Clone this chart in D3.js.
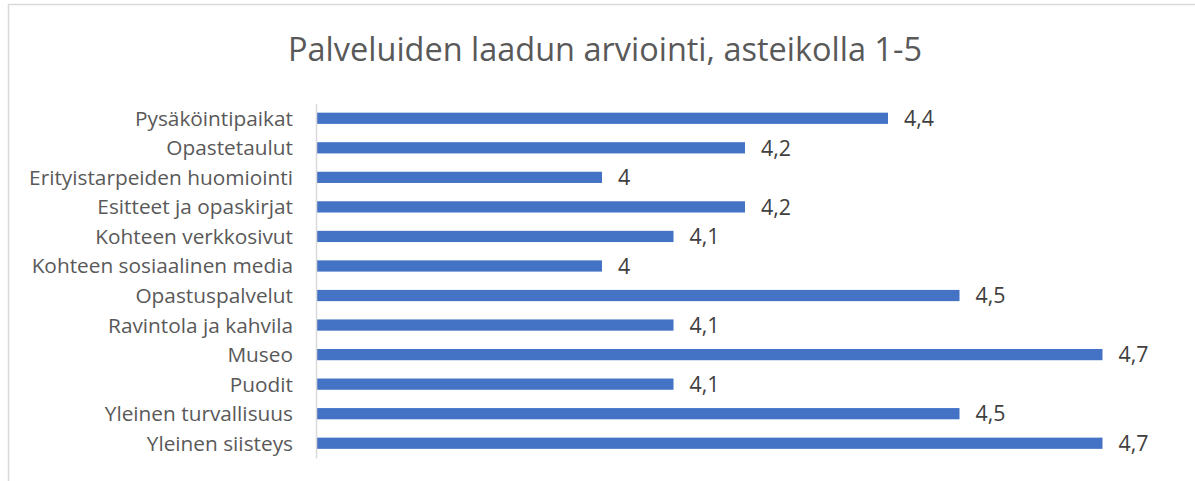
<!DOCTYPE html>
<html><head><meta charset="utf-8">
<script src="https://cdn.jsdelivr.net/npm/d3@7/dist/d3.min.js"></script>
<style>body{margin:0;background:#fff;} text{font-family:"Open Sans","Noto Sans",sans-serif;}</style>
</head><body><svg id="c" width="1195" height="481"></svg>
<script>
const title = "Palveluiden laadun arviointi, asteikolla 1-5";
const categories = ["Pysäköintipaikat","Opastetaulut","Erityistarpeiden huomiointi","Esitteet ja opaskirjat","Kohteen verkkosivut","Kohteen sosiaalinen media","Opastuspalvelut","Ravintola ja kahvila","Museo","Puodit","Yleinen turvallisuus","Yleinen siisteys"];
const values = [4.4,4.2,4.0,4.2,4.1,4.0,4.5,4.1,4.7,4.1,4.5,4.7];
const xDomain = [3.6, 4.8];

const svg = d3.select("#c");
svg.append("rect").attr("x",8.5).attr("y",4.5).attr("width",1200).attr("height",500)
  .attr("fill","none").attr("stroke","#d9d9d9").attr("stroke-width",1.5);

const x = d3.scaleLinear().domain(xDomain).range([316, 1174]);
const y = d3.scaleBand().domain(categories).range([103.5, 458]).paddingInner(0.62).paddingOuter(0.31);

function fit(sel, base, target){
  let w = 0; sel.each(function(){ w = Math.max(w, this.getComputedTextLength()); });
  sel.style("font-size", (base*target/w).toFixed(2)+"px");
}

const t = svg.append("text").attr("x",605).attr("y",61).attr("text-anchor","middle")
  .attr("fill","#595959").style("font-size","28px").text(title);
fit(t, 28, 634);

svg.append("g").selectAll("rect").data(values).join("rect")
  .attr("x", x(xDomain[0])+1)
  .attr("y",(d,i)=>y(categories[i]))
  .attr("width",d=>x(d)-x(xDomain[0])-1)
  .attr("height",y.bandwidth())
  .attr("fill","#4472c4");

const ax = svg.append("g").attr("transform",`translate(${x(xDomain[0])},0)`)
  .call(d3.axisLeft(y).tickSize(0).tickPadding(23));
ax.select(".domain").attr("stroke","#d9d9d9").attr("stroke-width",1.5);
const tl = ax.selectAll("text").attr("fill","#595959").style("font-size","16px")
  .style("font-family","'Open Sans','Noto Sans',sans-serif").attr("dy","0.36em");
fit(tl, 16, 264);

const vl = svg.append("g").selectAll("text").data(values).join("text")
  .attr("x",d=>x(d)+16)
  .attr("y",(d,i)=>y(categories[i])+y.bandwidth()/2)
  .attr("dy","0.36em")
  .attr("fill","#404040").style("font-size","16px")
  .text(d=>d3.format(".1f")(d).replace(".0","").replace(".",","));
fit(vl, 16, 30);
</script></body></html>
